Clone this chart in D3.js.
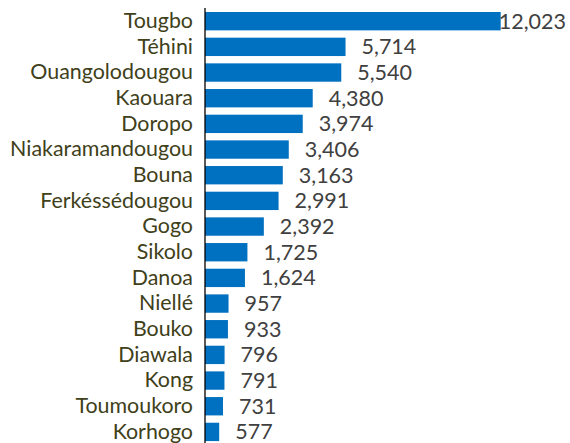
<!DOCTYPE html>
<html>
<head>
<meta charset="utf-8">
<script src="https://cdn.jsdelivr.net/npm/d3@7"></script>
<style>
  body { margin: 0; background: #fff; }
  text { font-family: Lato, "Open Sans", sans-serif; }
</style>
</head>
<body>
<svg width="570" height="443"></svg>
<script>
var names = ['Tougbo', 'Téhini', 'Ouangolodougou', 'Kaouara', 'Doropo',
             'Niakaramandougou', 'Bouna', 'Ferkéssédougou', 'Gogo', 'Sikolo',
             'Danoa', 'Niellé', 'Bouko', 'Diawala', 'Kong', 'Toumoukoro', 'Korhogo'];
var counts = [12023, 5714, 5540, 4380, 3974, 3406, 3163, 2991, 2392, 1725,
              1624, 957, 933, 796, 791, 731, 577];

var data = names.map(function(n, i) {
  return { name: n, value: counts[i] };
});

var svg = d3.select('svg');

var xScale = d3.scaleLinear()
               .domain([0, 12023])
               .range([205, 500.7]);

var yScale = d3.scaleBand()
               .domain(names)
               .range([4.7, 448.4])
               .padding(0.285);

// bars
svg.selectAll('rect.bar')
   .data(data)
   .enter()
   .append('rect')
   .attr('class', 'bar')
   .attr('x', xScale(0))
   .attr('y', function(d) { return yScale(d.name); })
   .attr('width', function(d) { return xScale(d.value) - xScale(0); })
   .attr('height', yScale.bandwidth())
   .style('fill', '#0070c0');

// category axis
var yAxis = d3.axisLeft(yScale)
              .tickSize(0)
              .tickPadding(12);
var g = svg.append('g')
           .attr('transform', 'translate(' + xScale(0) + ',0)')
           .call(yAxis);
g.select('.domain').remove();
g.selectAll('text')
 .style('font-size', '21.4px')
 .style('fill', '#40401a');

svg.append('line')
   .attr('x1', xScale(0)).attr('x2', xScale(0))
   .attr('y1', 8).attr('y2', 443)
   .style('stroke', '#000')
   .style('stroke-width', 1.3);

// value labels (the longest one is pushed back inside the frame)
svg.selectAll('text.val')
   .data(data)
   .enter()
   .append('text')
   .attr('class', 'val')
   .attr('y', function(d) { return yScale(d.name) + yScale.bandwidth() / 2; })
   .attr('dy', '0.35em')
   .style('font-size', '21.5px')
   .style('fill', '#404040')
   .text(function(d) { return d3.format(',')(d.value); })
   .attr('x', function(d) {
     var w = this.getComputedTextLength();
     return Math.min(xScale(d.value) + 16, 566 - w);
   });
</script>
</body>
</html>
